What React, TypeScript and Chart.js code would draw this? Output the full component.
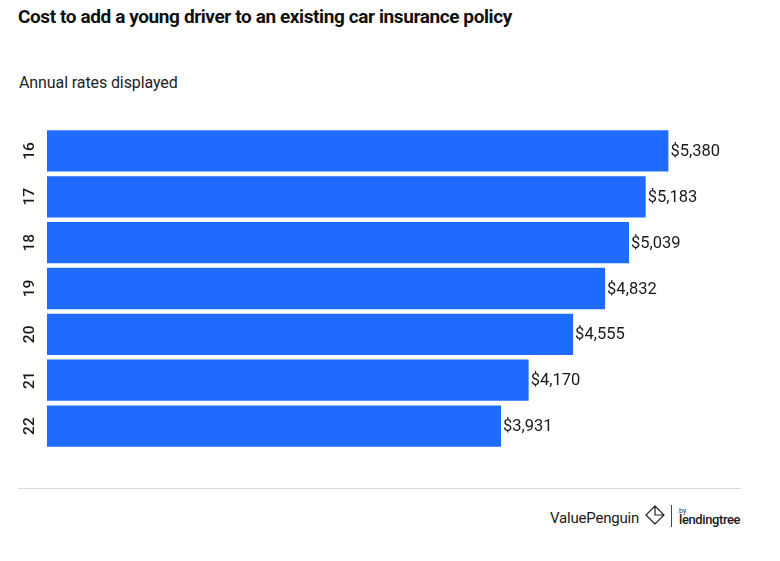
import React, { useEffect, useRef } from "react";
import { Chart, registerables } from "chart.js";

Chart.register(...registerables);

const ages = ["16", "17", "18", "19", "20", "21", "22"];
const annualRates = [5380, 5183, 5039, 4832, 4555, 4170, 3931];

const labelPlugin = {
  id: "customLabels",
  afterDatasetsDraw(chart: any) {
    const ctx = chart.ctx;
    const meta = chart.getDatasetMeta(0);
    const yScale = chart.scales.y;
    ctx.save();
    ctx.fillStyle = "#1a1a1a";
    ctx.font = "16.5px Roboto";
    ctx.textBaseline = "middle";
    ctx.textAlign = "left";
    meta.data.forEach((bar: any, i: number) => {
      const v = annualRates[i];
      ctx.fillText("$" + v.toLocaleString("en-US"), bar.x + 2, bar.y + 1);
    });
    ctx.font = "500 15.5px Roboto";
    ctx.textAlign = "center";
    ages.forEach((a, i) => {
      const y = yScale.getPixelForValue(i);
      ctx.save();
      ctx.translate(30, y);
      ctx.rotate(-Math.PI / 2);
      ctx.fillText(a, 0, 0);
      ctx.restore();
    });
    ctx.restore();
  },
};

export default function App() {
  const ref = useRef<HTMLCanvasElement>(null);
  useEffect(() => {
    if (!ref.current) return;
    const chart = new Chart(ref.current, {
      type: "bar",
      data: {
        labels: ages,
        datasets: [
          {
            data: annualRates,
            backgroundColor: "#1f6bff",
            barPercentage: 0.9,
            categoryPercentage: 1,
          },
        ],
      },
      options: {
        indexAxis: "y",
        animation: false,
        responsive: false,
        maintainAspectRatio: false,
        layout: { padding: { left: 47, right: 40, top: 8, bottom: 11 } },
        plugins: { legend: { display: false }, tooltip: { enabled: false } },
        scales: {
          x: { display: false, min: 0, max: 6000 },
          y: { display: false },
        },
      },
      plugins: [labelPlugin],
    });
    return () => chart.destroy();
  }, []);

  return (
    <div style={{ position: "relative", width: 780, height: 561, background: "#fff", fontFamily: "Roboto, sans-serif", margin: -8 }}>
      <div style={{ position: "absolute", left: 18, top: 5, fontSize: 19, fontWeight: 700, color: "#111", letterSpacing: -0.4, whiteSpace: "nowrap" }}>
        Cost to add a young driver to an existing car insurance policy
      </div>
      <div style={{ position: "absolute", left: 19, top: 73, fontSize: 16, color: "#222", letterSpacing: -0.1 }}>
        Annual rates displayed
      </div>
      <canvas ref={ref} width={780} height={340} style={{ position: "absolute", left: 0, top: 120, width: 780, height: 340 }} />
      <div style={{ position: "absolute", left: 18, top: 488, width: 723, height: 1, background: "#d8d8d8" }} />
      <div style={{ position: "absolute", left: 550, top: 509, fontSize: 15, color: "#1a1a1a", letterSpacing: -0.2 }}>ValuePenguin</div>
      <svg style={{ position: "absolute", left: 645, top: 505 }} width={20} height={20} viewBox="0 0 20 20">
        <path d="M10 1 L19 10 L10 19 L1 10 Z M10 1 L10 10 L19 10 M1 10 L10 19" fill="none" stroke="#222" strokeWidth={1.2} />
      </svg>
      <div style={{ position: "absolute", left: 671, top: 505, width: 1, height: 22, background: "#444" }} />
      <div style={{ position: "absolute", left: 679, top: 507, fontSize: 7, color: "#333" }}>by</div>
      <div style={{ position: "absolute", left: 679, top: 512, fontSize: 13, fontWeight: 500, color: "#1a1a1a", letterSpacing: -0.4 }}>lendingtree</div>
    </div>
  );
}
